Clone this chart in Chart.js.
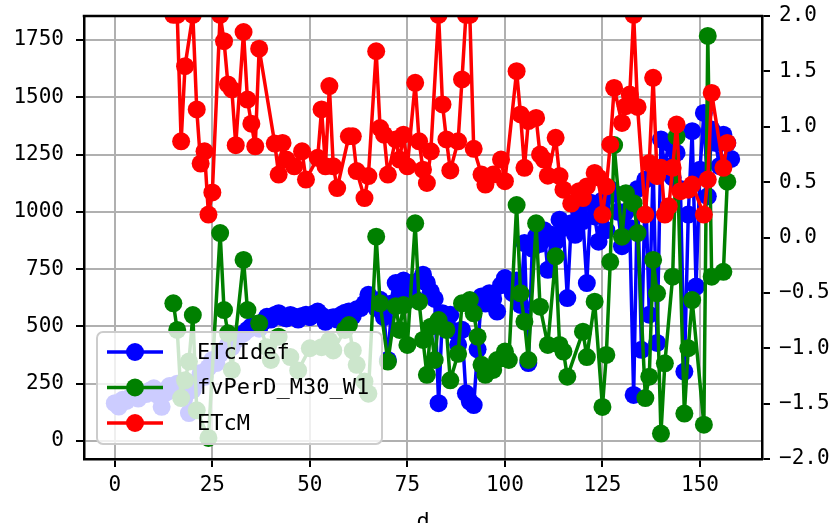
<!DOCTYPE html>
<html><head><meta charset="utf-8">
<script src="https://cdn.jsdelivr.net/npm/chart.js@4/dist/chart.umd.min.js"></script>
<style>html,body{margin:0;padding:0;background:#fff}</style>
</head><body>
<canvas id="c" width="838" height="523"></canvas>
<script>
// ---------- data ----------
const xTicks = [0, 25, 50, 75, 100, 125, 150];
const leftTicks = [0, 250, 500, 750, 1000, 1250, 1500, 1750];
const rightTicks = [-2, -1.5, -1, -0.5, 0, 0.5, 1, 1.5, 2];
const seriesNames = ['ETcIdef', 'fvPerD_M30_W1', 'ETcM'];

// ETcIdef : one value per day, day = index (0..158)
const etcIdef = [
  165,150,180,175,192,200,185,210,205,220,
  230,200,149,210,240,223,250,230,200,122,
  223,260,297,280,320,354,340,380,398,420,
  410,441,460,470,485,500,510,490,520,542,
  530,550,558,540,535,550,543,530,545,551,
  540,555,565,548,520,536,540,530,550,560,
  565,545,575,580,600,638,610,580,616,540,
  354,600,689,640,700,660,690,620,700,726,
  690,652,620,165,558,520,551,480,420,485,
  208,172,157,400,631,600,645,620,565,680,
  711,689,645,700,594,864,340,840,893,860,
  920,747,900,870,966,930,624,950,900,1000,
  960,689,1040,980,870,1050,920,1100,1082,1000,
  850,1000,930,201,1100,398,1141,551,1200,428,
  1316,1200,1301,1150,1257,1100,303,988,1352,674,
  1184,1432,1068,1359,1301,1200,1337,1300,1231
];

// fvPerD_M30_W1 (right axis)
const fvDays = [15,16,17,18,19,20,21,24,27,28,29,30,33,34,37,39,40,42,45,47,50,53,55,56,59,60,61,62,64,65,
  67,68,70,72,73,74,75,77,78,79,80,81,82,83,85,86,88,89,91,92,93,94,95,97,98,100,101,103,104,105,106,108,109,
  111,113,114,115,116,120,121,123,125,126,127,128,130,131,133,134,136,137,138,139,140,141,143,144,146,147,148,
  151,152,153,156,157];
const fvPerD = [-0.594,-0.835,-1.45,-1.29,-1.12,-0.70,-1.56,-1.81,0.04,-0.655,-0.865,-1.196,-0.203,-0.655,-0.775,-0.99,-1.106,-0.896,-1.08,-1.2,-1.0,-0.99,-0.93,-1.02,-0.835,-0.79,-1.02,-1.15,-1.30,-1.41,
  0.007,-0.594,-1.12,-0.62,-0.835,-0.61,-0.97,0.128,-0.58,-0.925,-1.24,-0.805,-1.106,-0.745,-0.835,-1.29,-1.05,-0.594,-0.565,-0.685,-0.896,-1.15,-1.24,-1.196,-1.106,-1.03,-1.106,0.293,-0.504,-0.76,-1.106,0.128,-0.625,
  -0.97,-0.17,-0.97,-1.03,-1.257,-0.85,-1.08,-0.58,-1.53,-1.06,-0.22,0.835,0.007,0.40,0.31,0.04,-1.45,-1.257,-0.203,-0.504,-1.77,-1.136,-0.354,0.91,-1.59,-1.0,-0.565,
  -1.69,1.82,-0.354,-0.31,0.504];

// ETcM (left axis)
const etcMDays = [15,16,17,18,20,21,22,23,24,25,27,28,29,30,31,33,34,35,36,37,41,42,43,44,46,48,49,52,53,54,55,56,57,60,61,62,64,65,
  67,68,69,70,72,73,74,75,77,78,79,80,81,83,84,85,86,88,89,90,91,92,94,95,97,99,100,103,104,105,106,108,109,110,111,113,114,115,117,
  119,120,121,123,124,125,126,127,128,130,131,132,133,134,136,137,138,139,140,141,142,143,144,145,147,148,151,152,153,156,157];
const etcM = [1860,1860,1308,1636,1860,1447,1211,1264,988,1085,1860,1745,1556,1534,1291,1785,1490,1385,1286,1712,1298,1163,1301,1228,1199,1264,1141,1236,1447,1199,1549,1199,1104,1330,1330,1178,1060,1156,
  1701,1366,1337,1163,1316,1228,1337,1199,1563,1308,1184,1126,1264,1860,1469,1316,1181,1308,1578,1860,1860,1275,1163,1119,1163,1228,1134,1614,1425,1192,1396,1410,1250,1228,1158,1323,1156,1097,1036,
  1090,1060,1111,1170,1150,988,1111,1294,1541,1388,1461,1512,1860,1458,988,1213,1585,1156,1192,988,1024,1192,1381,1090,1097,1119,988,1141,1519,1192,1301];

// ---------- build ----------
const FONT = "'DejaVu Sans Mono', 'Liberation Mono', monospace";
const colors = ['#0000ff', '#008000', '#ff0000'];
const bluePts = etcIdef.map((v, i) => ({x: i, y: v}));
const greenPts = fvDays.map((d, i) => ({x: d, y: fvPerD[i]}));
const redPts = etcMDays.map((d, i) => ({x: d, y: etcM[i]}));

function ds(label, data, color, axis, order) {
  return {label, data, yAxisID: axis, order, borderColor: color, backgroundColor: color,
    pointBackgroundColor: color, pointBorderColor: color, pointBorderWidth: 0, pointRadius: 9,
    borderWidth: 3.5, borderJoinStyle: 'round', tension: 0, clip: 0, fill: false};
}

const gridBase = {color: '#b0b0b0', lineWidth: 2, tickColor: '#000', tickLength: 8, tickWidth: 2};
const tickFont = {family: FONT, size: 21};

const framePlugin = {
  id: 'frame',
  afterDraw(chart) {
    const {ctx, chartArea: a} = chart;
    ctx.save();
    ctx.strokeStyle = '#000'; ctx.lineWidth = 2.5;
    ctx.beginPath(); ctx.moveTo(a.left - 1.25, a.top); ctx.lineTo(a.right + 1.25, a.top); ctx.stroke();
    // legend
    const lx = a.left + 13, ly = a.top + 316, lw = 285, lh = 112, r = 6;
    ctx.beginPath();
    ctx.moveTo(lx + r, ly); ctx.lineTo(lx + lw - r, ly); ctx.arcTo(lx + lw, ly, lx + lw, ly + r, r);
    ctx.lineTo(lx + lw, ly + lh - r); ctx.arcTo(lx + lw, ly + lh, lx + lw - r, ly + lh, r);
    ctx.lineTo(lx + r, ly + lh); ctx.arcTo(lx, ly + lh, lx, ly + lh - r, r);
    ctx.lineTo(lx, ly + r); ctx.arcTo(lx, ly, lx + r, ly, r); ctx.closePath();
    ctx.fillStyle = 'rgba(255,255,255,0.8)'; ctx.fill();
    ctx.strokeStyle = '#cccccc'; ctx.lineWidth = 2; ctx.stroke();
    ctx.font = '22px ' + FONT; ctx.textBaseline = 'middle'; ctx.textAlign = 'left';
    seriesNames.forEach((name, i) => {
      const y = ly + 20 + i * 35.5;
      ctx.strokeStyle = colors[i]; ctx.lineWidth = 3.5;
      ctx.beginPath(); ctx.moveTo(lx + 10, y); ctx.lineTo(lx + 66, y); ctx.stroke();
      ctx.fillStyle = colors[i];
      ctx.beginPath(); ctx.arc(lx + 38, y, 9, 0, Math.PI * 2); ctx.fill();
      ctx.fillStyle = '#000'; ctx.fillText(name, lx + 100, y + 1);
    });
    ctx.restore();
  }
};

const vFit = w => s => { s.width = w; s.paddingTop = 0; s.paddingBottom = 0; };

new Chart(document.getElementById('c'), {
  type: 'line',
  data: {datasets: [
    ds(seriesNames[0], bluePts, colors[0], 'y', 3),
    ds(seriesNames[1], greenPts, colors[1], 'y2', 2),
    ds(seriesNames[2], redPts, colors[2], 'y', 1)
  ]},
  options: {
    responsive: false, animation: false, devicePixelRatio: 1,
    layout: {padding: {top: 16, left: 0, right: 0, bottom: 0}},
    plugins: {legend: {display: false}, tooltip: {enabled: false}},
    scales: {
      x: {type: 'linear', min: -7.9, max: 165.9,
        afterBuildTicks: s => { s.ticks = xTicks.map(v => ({value: v})); },
        afterFit: s => { s.height = 64; s.paddingLeft = 0; s.paddingRight = 0; },
        grid: gridBase, border: {color: '#000', width: 2.5, z: 1},
        ticks: {font: tickFont, color: '#000', padding: 6, maxRotation: 0, autoSkip: false, callback: v => String(v)},
        title: {display: true, text: 'd', color: '#000', font: {family: FONT, size: 22}, padding: {top: 0, bottom: -12}}
      },
      y: {type: 'linear', position: 'left', min: -78.6, max: 1854.8,
        afterBuildTicks: s => { s.ticks = leftTicks.map(v => ({value: v})); },
        afterFit: vFit(84),
        grid: gridBase, border: {color: '#000', width: 2.5, z: 1},
        ticks: {font: tickFont, color: '#000', padding: 12, autoSkip: false, callback: v => String(v)}
      },
      y2: {type: 'linear', position: 'right', min: -2, max: 2,
        afterBuildTicks: s => { s.ticks = rightTicks.map(v => ({value: v})); },
        afterFit: vFit(76),
        grid: Object.assign({}, gridBase, {drawOnChartArea: false}), border: {color: '#000', width: 2.5, z: 1},
        ticks: {font: tickFont, color: '#000', padding: 9, autoSkip: false, callback: v => v.toFixed(1).replace('-', '\u2212')}
      }
    }
  },
  plugins: [framePlugin]
});
</script>
</body></html>
